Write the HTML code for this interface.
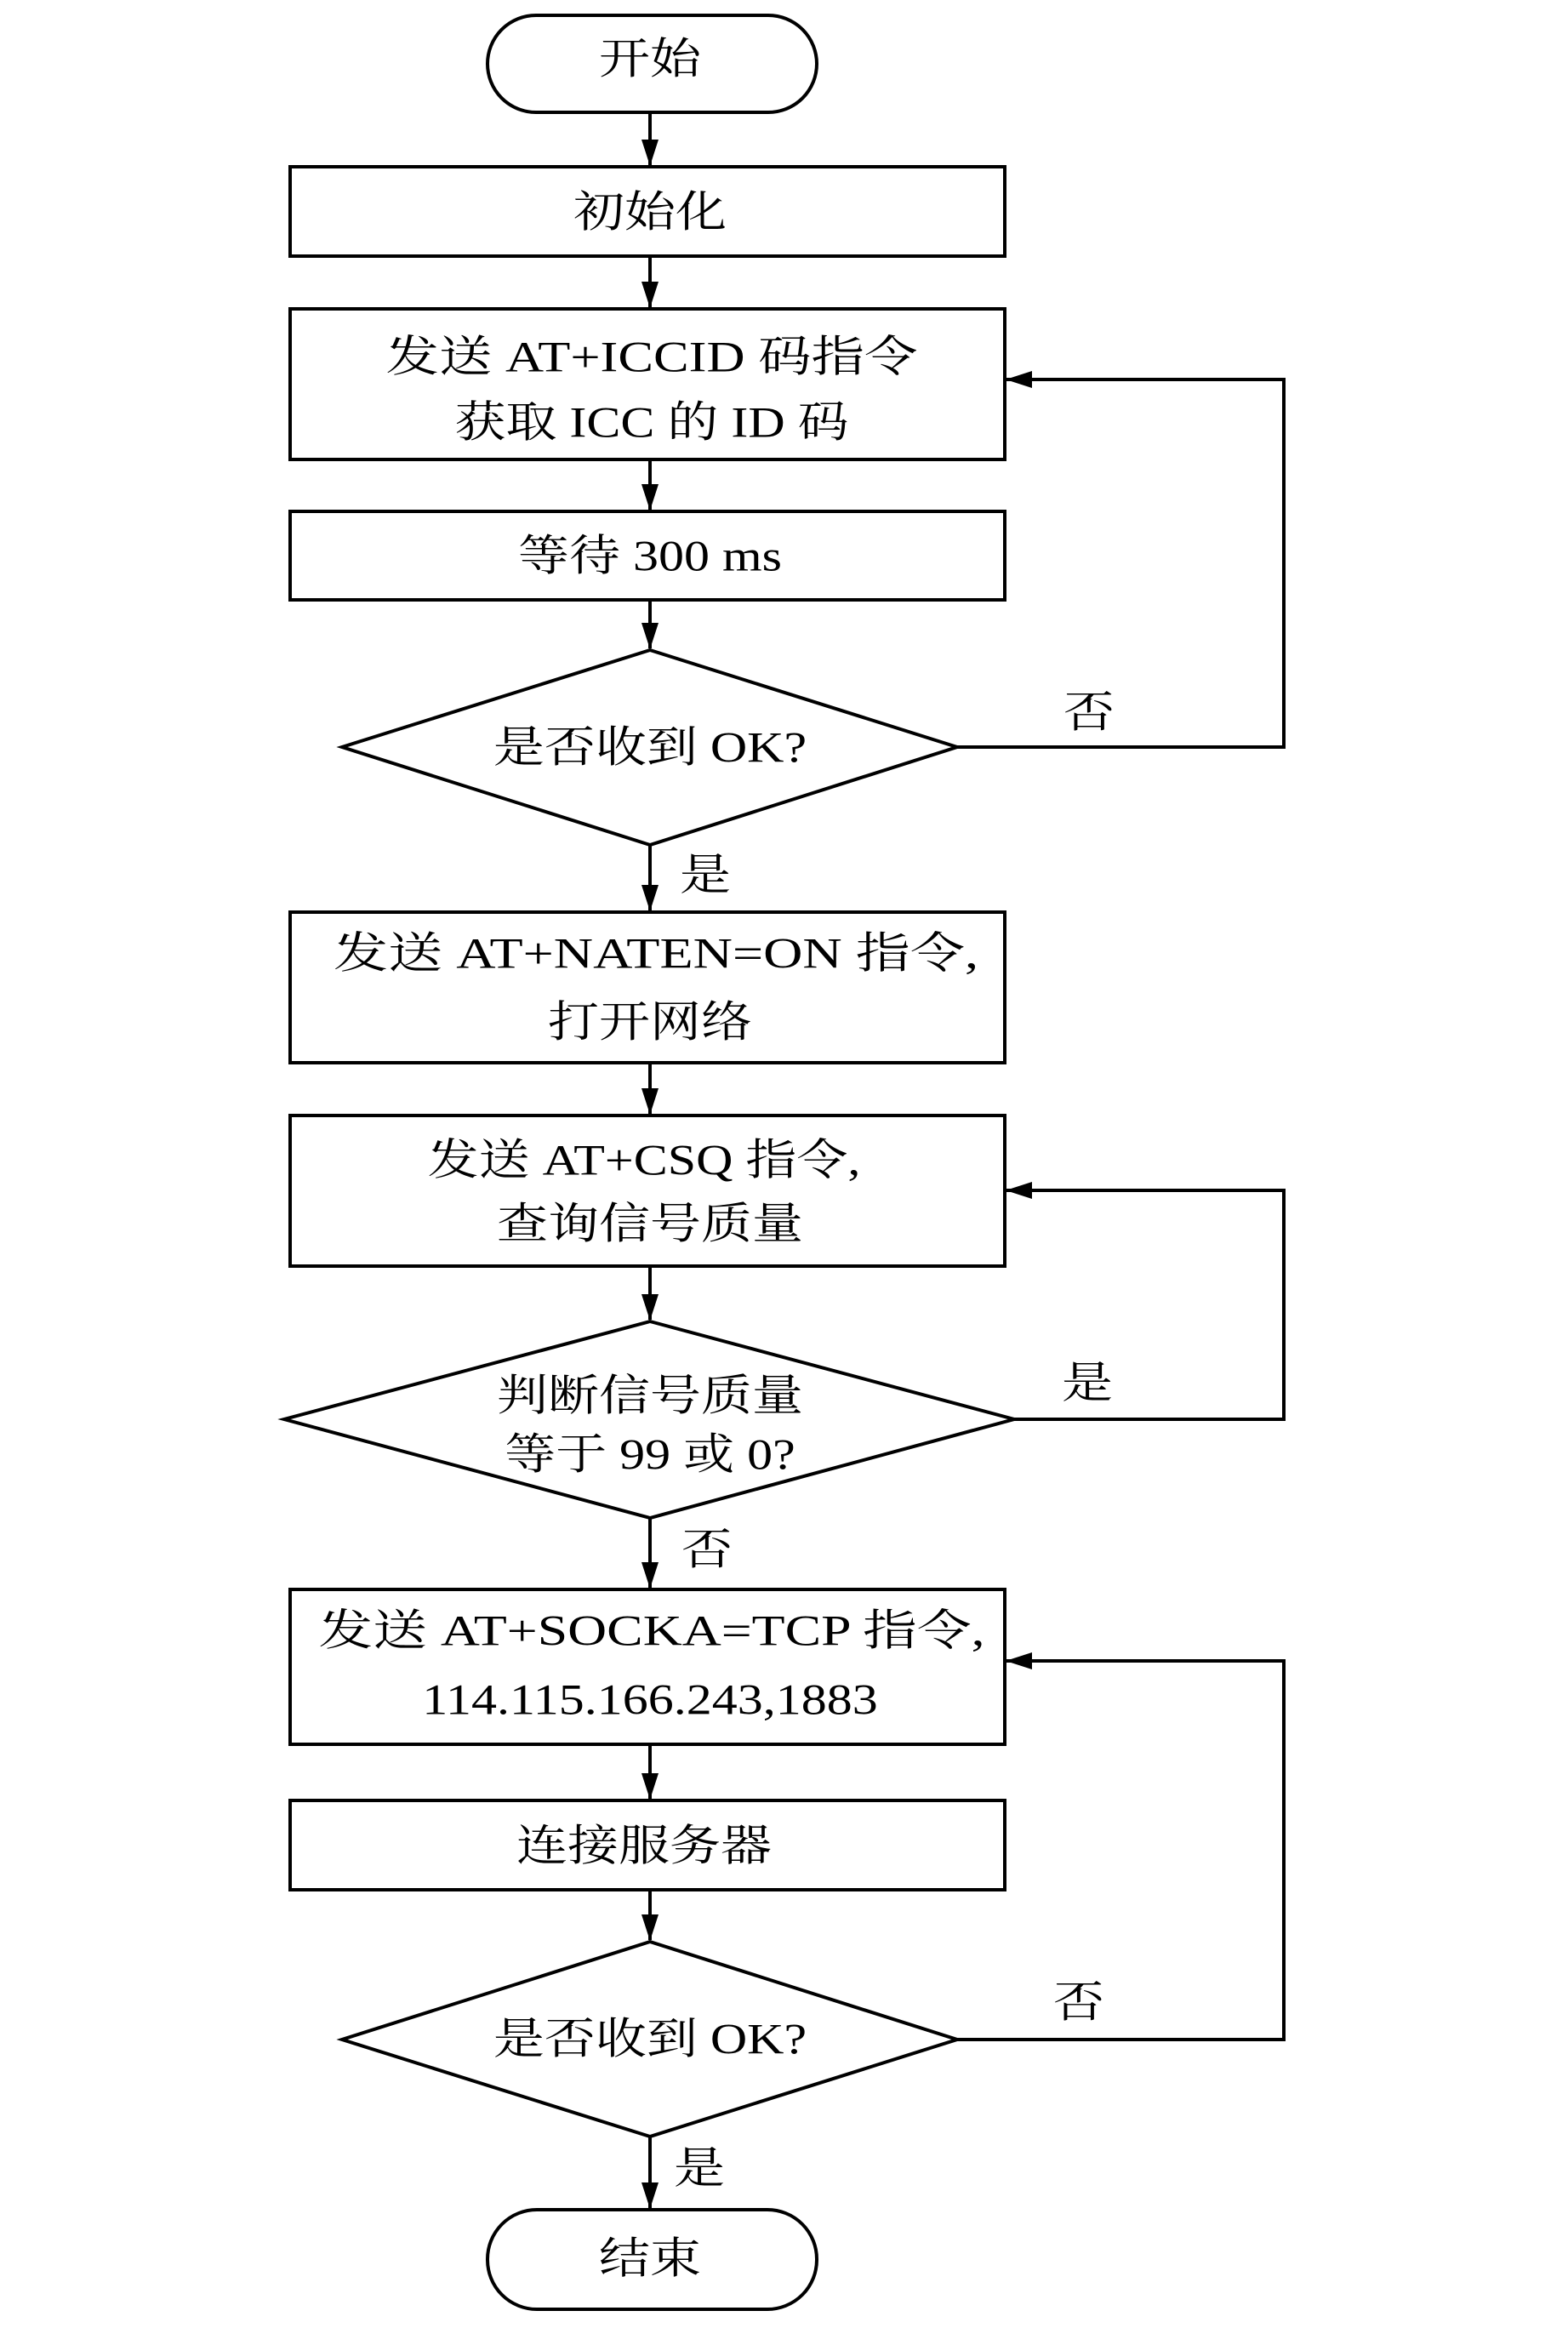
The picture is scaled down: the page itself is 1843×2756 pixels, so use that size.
<!DOCTYPE html>
<html><head><meta charset="utf-8"><style>html,body{margin:0;padding:0;background:#fff}svg{display:block}</style></head>
<body>
<svg xmlns="http://www.w3.org/2000/svg" width="1843" height="2756" viewBox="0 0 1843 2756">
<defs>
<marker id="a" markerWidth="32" markerHeight="20" refX="30" refY="10" orient="auto" markerUnits="userSpaceOnUse">
<path d="M0,0 L31,10 L0,20 Z" fill="#000"/>
</marker>
</defs>
<g fill="none" stroke="#000" stroke-width="4">
<rect x="573" y="18" width="387" height="114" rx="57"/>
<rect x="341" y="196" width="840" height="105"/>
<rect x="341" y="363" width="840" height="177"/>
<rect x="341" y="601" width="840" height="104"/>
<path d="M764,764 L1125,878 L764,993 L402,878 Z"/>
<rect x="341" y="1072" width="840" height="177"/>
<rect x="341" y="1311" width="840" height="177"/>
<path d="M764,1553 L1192,1668 L764,1784 L334,1668 Z"/>
<rect x="341" y="1868" width="840" height="182"/>
<rect x="341" y="2116" width="840" height="105"/>
<path d="M764,2282 L1125,2397 L764,2511 L402,2397 Z"/>
<rect x="573" y="2597" width="387" height="117" rx="58"/>
</g>
<g fill="none" stroke="#000" stroke-width="4" marker-end="url(#a)">
<line x1="764" y1="132" x2="764" y2="194"/>
<line x1="764" y1="301" x2="764" y2="361"/>
<line x1="764" y1="540" x2="764" y2="599"/>
<line x1="764" y1="705" x2="764" y2="762"/>
<line x1="764" y1="993" x2="764" y2="1070"/>
<line x1="764" y1="1249" x2="764" y2="1309"/>
<line x1="764" y1="1488" x2="764" y2="1551"/>
<line x1="764" y1="1784" x2="764" y2="1866"/>
<line x1="764" y1="2050" x2="764" y2="2114"/>
<line x1="764" y1="2221" x2="764" y2="2280"/>
<line x1="764" y1="2511" x2="764" y2="2595"/>
<polyline points="1125,878 1509,878 1509,446 1183,446"/>
<polyline points="1192,1668 1509,1668 1509,1399 1183,1399"/>
<polyline points="1125,2397 1509,2397 1509,1952 1183,1952"/>
</g>
<g font-family="'Liberation Serif','Noto Serif CJK SC',serif" font-size="60" fill="#000" text-anchor="middle" dominant-baseline="central">
<g transform="translate(764,70) scale(1,0.85)"><text>开始</text></g>
<g transform="translate(764,250) scale(1,0.85)"><text>初始化</text></g>
<g transform="translate(766,420) scale(1,0.85)"><text textLength="625" lengthAdjust="spacingAndGlyphs">发送 AT+ICCID 码指令</text></g>
<g transform="translate(766,497) scale(1,0.85)"><text>获取 ICC 的 ID 码</text></g>
<g transform="translate(764,654) scale(1,0.85)"><text>等待 300 ms</text></g>
<g transform="translate(764,879) scale(1,0.85)"><text>是否收到 OK?</text></g>
<g transform="translate(771,1121) scale(1,0.85)"><text textLength="758" lengthAdjust="spacingAndGlyphs">发送 AT+NATEN=ON 指令,</text></g>
<g transform="translate(764,1202) scale(1,0.85)"><text>打开网络</text></g>
<g transform="translate(757,1364) scale(1,0.85)"><text>发送 AT+CSQ 指令,</text></g>
<g transform="translate(764,1439) scale(1,0.85)"><text>查询信号质量</text></g>
<g transform="translate(764,1641) scale(1,0.85)"><text>判断信号质量</text></g>
<g transform="translate(764,1710) scale(1,0.85)"><text>等于 99 或 0?</text></g>
<g transform="translate(766,1917) scale(1,0.85)"><text textLength="783" lengthAdjust="spacingAndGlyphs">发送 AT+SOCKA=TCP 指令,</text></g>
<g transform="translate(764,1998) scale(1,0.85)"><text>114.115.166.243,1883</text></g>
<g transform="translate(757,2170) scale(1,0.85)"><text>连接服务器</text></g>
<g transform="translate(764,2397) scale(1,0.85)"><text>是否收到 OK?</text></g>
<g transform="translate(764,2655) scale(1,0.85)"><text>结束</text></g>
<g transform="translate(1280,838) scale(1,0.85)"><text>否</text></g>
<g transform="translate(829,1029) scale(1,0.85)"><text>是</text></g>
<g transform="translate(1278,1626) scale(1,0.85)"><text>是</text></g>
<g transform="translate(831,1822) scale(1,0.85)"><text>否</text></g>
<g transform="translate(1268,2354) scale(1,0.85)"><text>否</text></g>
<g transform="translate(822,2549) scale(1,0.85)"><text>是</text></g>
</g>
</svg>
</body></html>
